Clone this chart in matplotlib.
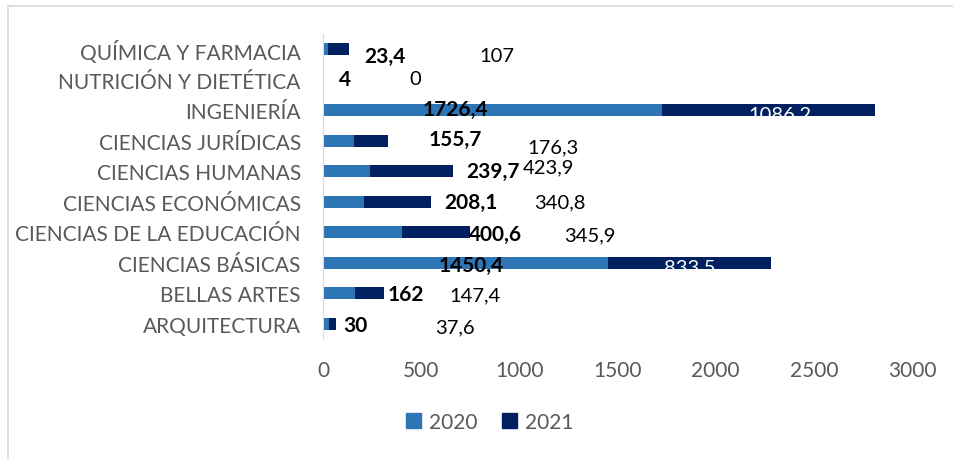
import matplotlib
matplotlib.use("Agg")
import matplotlib.pyplot as plt
from matplotlib.patches import Rectangle, Patch

# data
facultades = ["ARQUITECTURA", "BELLAS ARTES", "CIENCIAS BÁSICAS",
              "CIENCIAS DE LA EDUCACIÓN", "CIENCIAS ECONÓMICAS",
              "CIENCIAS HUMANAS", "CIENCIAS JURÍDICAS", "INGENIERÍA",
              "NUTRICIÓN Y DIETÉTICA", "QUÍMICA Y FARMACIA"]
v2020 = [30, 162, 1450.4, 400.6, 208.1, 239.7, 155.7, 1726.4, 4, 23.4]
v2021 = [37.6, 147.4, 833.5, 345.9, 340.8, 423.9, 176.3, 1086.2, 0, 107]
etiq2020 = ["30", "162", "1450,4", "400,6", "208,1", "239,7", "155,7", "1726,4", "4", "23,4"]
etiq2021 = ["37,6", "147,4", "833,5", "345,9", "340,8", "423,9", "176,3", "1086,2", "0", "107"]

# where the (hand-moved) data labels sit, x in data units, y offset in rows
lab20_x = [163, 420, 754, 880, 755, 865, 672, 672, 112, 316]
lab20_dy = [-0.03, -0.03, -0.06, -0.06, 0.0, 0.0, 0.06, 0.03, 0.03, -0.22]
lab21_x = [672, 774, 1870, 1360, 1207, 1146, 1172, 2328, 469, 886]
lab21_dy = [-0.1, -0.06, -0.15, -0.1, 0.0, 0.13, -0.2, -0.12, 0.03, -0.22]

c2020 = "#2E75B6"
c2021 = "#002060"
gris = "#595959"
fuente = "Lato"

fig = plt.figure(figsize=(9.54, 4.60), dpi=100)
ax = fig.add_axes([323 / 954, 1 - 340 / 460, (912 - 323) / 954, 305 / 460])

y = list(range(len(facultades)))
ax.barh(y, v2020, height=0.4, color=c2020)
ax.barh(y, v2021, left=v2020, height=0.4, color=c2021)

for i in y:
    ax.text(lab20_x[i], i + lab20_dy[i], etiq2020[i], ha="center", va="center",
            fontsize=15, fontweight="bold", color="black", family=fuente)
    col = "white" if etiq2021[i] in ("833,5", "1086,2") else "black"
    ax.text(lab21_x[i], i + lab21_dy[i], etiq2021[i], ha="center", va="center",
            fontsize=14.5, color=col, family=fuente, clip_on=False)

ax.set_xlim(0, 3000)
ax.set_ylim(-0.5, len(facultades) - 0.5)
ax.set_xticks([0, 500, 1000, 1500, 2000, 2500, 3000])
ax.set_yticks(y)
ax.set_yticklabels(facultades)
ax.tick_params(axis="y", length=0, pad=16, labelsize=15, labelcolor=gris)
ax.tick_params(axis="x", length=0, pad=15, labelsize=15, labelcolor=gris)
for lab in ax.get_xticklabels() + ax.get_yticklabels():
    lab.set_family(fuente)
for s in ["top", "right", "bottom"]:
    ax.spines[s].set_visible(False)
ax.spines["left"].set_color("#d9d9d9")

handles = [Patch(color=c2020, label="2020"), Patch(color=c2021, label="2021")]
fig.legend(handles=handles, loc="center", bbox_to_anchor=(490 / 954, 1 - 423 / 460),
           ncol=2, frameon=False, handlelength=0.7, handleheight=0.7,
           columnspacing=1.2, handletextpad=0.4,
           prop={"family": fuente, "size": 15}, labelcolor=gris)

# outer chart frame (only left and top show in the crop)
fig.patches.append(Rectangle((8 / 954, -0.1), 1.2, 1 - 7 / 460 + 0.1,
                             transform=fig.transFigure, fill=False,
                             edgecolor="#d9d9d9", linewidth=1.2))

fig.savefig("out.png", dpi=100)
